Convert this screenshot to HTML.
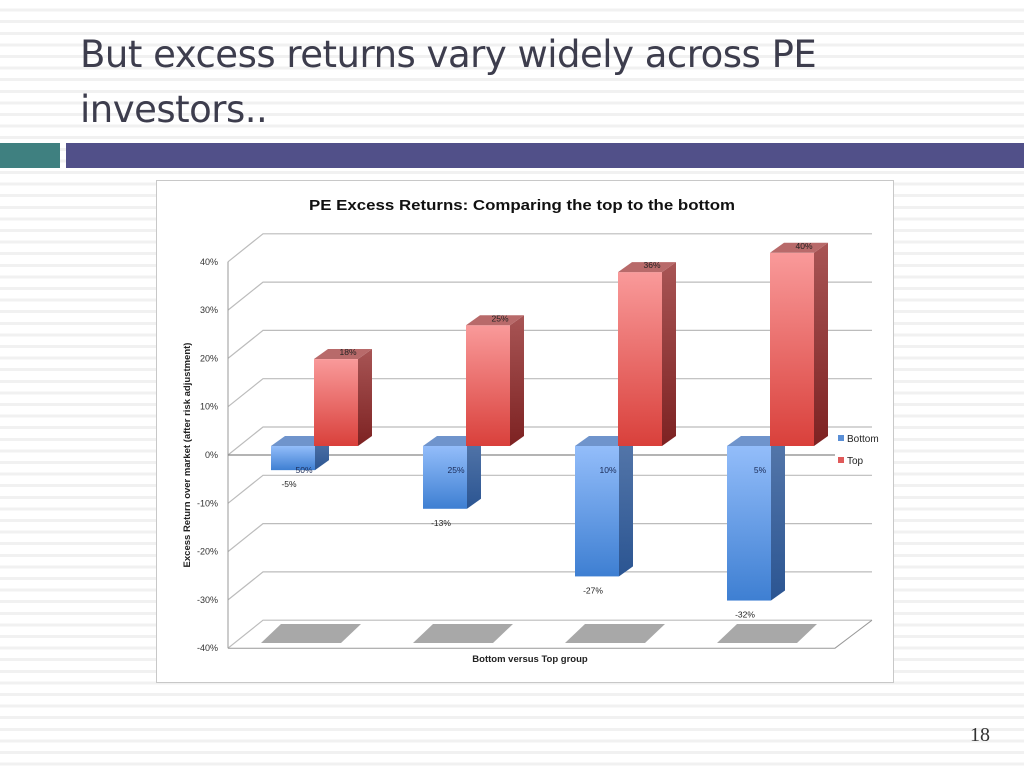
<!DOCTYPE html>
<html><head><meta charset="utf-8">
<style>
html,body{margin:0;padding:0}
body{width:1024px;height:768px;position:relative;overflow:hidden;background:#fff;
background-image:repeating-linear-gradient(to bottom,#fff 0px,#fff 8.6px,#f1f1f1 8.6px,#f1f1f1 11.6px);
font-family:"Liberation Sans",sans-serif}
.t{position:absolute;left:80px;font-size:37px;color:#3d3d4d;font-family:"DejaVu Sans","Liberation Sans",sans-serif;letter-spacing:-0.5px}
</style></head><body>
<div class="t" style="top:33px">But excess returns vary widely across PE</div>
<div class="t" style="top:88px">investors..</div>
<div style="position:absolute;left:0;top:143px;width:60px;height:25px;background:#3f8080"></div>
<div style="position:absolute;left:66px;top:143px;width:958px;height:25px;background:#515089"></div>
<div style="position:absolute;left:970px;top:724px;font-size:20px;font-family:'Liberation Serif',serif;color:#333">18</div>
<svg width="1024" height="768" style="position:absolute;left:0;top:0">
<defs>
<linearGradient id="rg" x1="0" y1="0" x2="0" y2="1"><stop offset="0" stop-color="#f99a9a"/><stop offset="1" stop-color="#d9403b"/></linearGradient>
<linearGradient id="rs" x1="0" y1="0" x2="0" y2="1"><stop offset="0" stop-color="#a85555"/><stop offset="1" stop-color="#7d2222"/></linearGradient>
<linearGradient id="bg" x1="0" y1="0" x2="0" y2="1"><stop offset="0" stop-color="#93bdfa"/><stop offset="1" stop-color="#3e7fd2"/></linearGradient>
<linearGradient id="bs" x1="0" y1="0" x2="0" y2="1"><stop offset="0" stop-color="#5577aa"/><stop offset="1" stop-color="#2b5592"/></linearGradient>
</defs>
<rect x="156.5" y="180.5" width="737" height="502" fill="#fff" stroke="#c8c8c8"/>
<text x="522" y="210" text-anchor="middle" font-size="14.5" font-weight="bold" fill="#111" textLength="426" lengthAdjust="spacingAndGlyphs">PE Excess Returns: Comparing the top to the bottom</text>
<g id="grid"></g>
<g id="bars"></g>
<text x="0" y="0" transform="translate(190,455) rotate(-90)" text-anchor="middle" font-size="9.5" font-weight="bold" fill="#222">Excess Return over market (after risk adjustment)</text>
<text x="530" y="662" text-anchor="middle" font-size="9.5" font-weight="bold" fill="#222">Bottom versus Top group</text>
<rect x="838" y="435" width="6" height="6" fill="#5a8fd6"/>
<text x="847" y="442" font-size="10" fill="#222">Bottom</text>
<rect x="838" y="457" width="6" height="6" fill="#e05a5a"/>
<text x="847" y="464" font-size="10" fill="#222">Top</text>
</svg>
<script>
const categories=["50%","25%","10%","5%"];
const bottomValues=[-5,-13,-27,-32];
const topValues=[18,25,36,40];
const yTicks=[40,30,20,10,0,-10,-20,-30,-40];
const NS="http://www.w3.org/2000/svg";
const X0=228,Y0=455,PX=4.83,DX=35,DY=-28;
function yF(v){return Y0-v*PX;}
function bY(v){return 446-v*PX;}
function gX(i){return 271+i*152;}
function mk(t,a,p){const e=document.createElementNS(NS,t);for(const k in a)e.setAttribute(k,a[k]);(p||document.querySelector('svg')).appendChild(e);return e;}
const grid=document.getElementById('grid'),bars=document.getElementById('bars');
yTicks.forEach(v=>{const y=yF(v);
 const l=mk('polyline',{points:`${X0},${y} ${X0+DX},${y+DY} 872,${y+DY}`,fill:'none',stroke:'#bcbcbc','stroke-width':1.2},grid);
 
 
 const t=mk('text',{x:X0-10,y:y+3,'text-anchor':'end','font-size':9,fill:'#333'},grid);
 t.textContent=v+'%';
 
 
});
mk('line',{x1:X0,y1:yF(40),x2:X0,y2:yF(-40),stroke:'#999'},grid);
mk('polyline',{points:`${X0},${yF(-40)} 835,${yF(-40)} 872,${yF(-40)+DY}`,fill:'none',stroke:'#999'},grid);
mk('line',{x1:X0,y1:Y0,x2:835,y2:Y0,stroke:'#888','stroke-width':1.2},grid);
categories.forEach((c,i)=>{
 const x=gX(i);
 const sh=mk('polygon',{points:`${x-10},643 ${x+70},643 ${x+90},624 ${x+10},624`,fill:'#a8a8a8'},grid);
 
 
 [[bottomValues[i],x,'bg','bs','#6f94cc','bar-bottom'],[topValues[i],x+43,'rg','rs','#b86a6a','bar-top']].forEach(([v,bx,g,s,tc,nm])=>{
  const w=44,dx=14,dy=-10;
  const y1=bY(Math.max(v,0)),y2=bY(Math.min(v,0));
  const gEl=mk('g',{},bars);
  
  
  mk('polygon',{points:`${bx+w},${y1} ${bx+w+dx},${y1+dy} ${bx+w+dx},${y2+dy} ${bx+w},${y2}`,fill:`url(#${s})`},gEl);
  mk('rect',{x:bx,y:y1,width:w,height:y2-y1,fill:`url(#${g})`},gEl);
  mk('polygon',{points:`${bx},${y1} ${bx+dx},${y1+dy} ${bx+w+dx},${y1+dy} ${bx+w},${y1}`,fill:tc},gEl);
  const lt=mk('text',{x:bx+(v>=0?w/2+12:18),y:v>=0?y1-4:y2+17,'text-anchor':'middle','font-size':8.5,fill:'#222'},bars);
  lt.textContent=v+'%';
  
  
 });
 const cl=mk('text',{x:x+33,y:473,'text-anchor':'middle','font-size':8.5,fill:'#1a2a55'},bars);
 cl.textContent=c;
 
 
});
</script>
</body></html>
